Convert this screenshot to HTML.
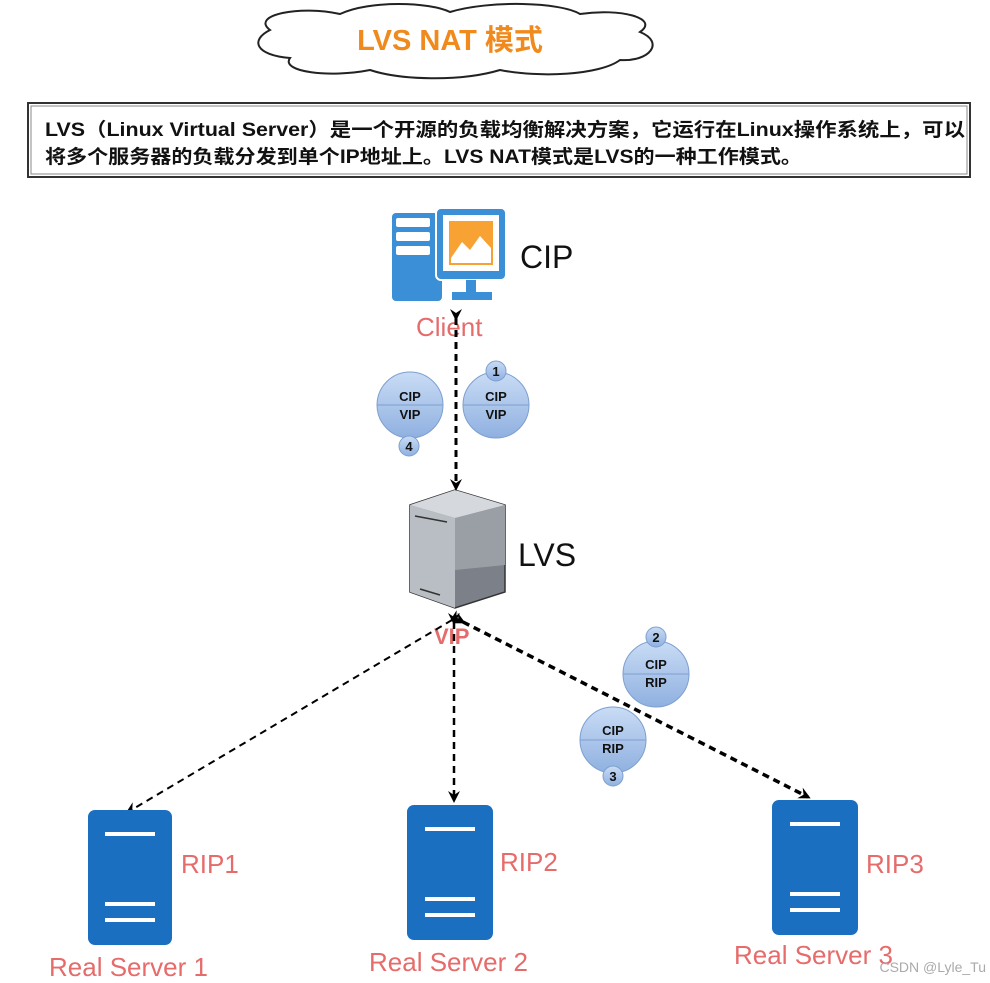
<!DOCTYPE html>
<html><head><meta charset="utf-8"><style>body{margin:0;background:#fff}svg{display:block}text{font-family:"Liberation Sans","Noto Sans CJK SC",sans-serif}</style></head><body>
<svg width="990" height="983" viewBox="0 0 990 983">
<defs>
<marker id="a" markerWidth="12" markerHeight="12" refX="9" refY="6" orient="auto" markerUnits="userSpaceOnUse"><path d="M0,0 L12,6 L0,12 L4,6z" fill="#000"/></marker>
<linearGradient id="bg" x1="0" y1="0" x2="0" y2="1"><stop offset="0" stop-color="#c9dcf5"/><stop offset="1" stop-color="#8fb0e0"/></linearGradient>
</defs>
<!-- cloud -->
<path d="M270,30 C250,15 300,5 340,14 C370,0 430,2 450,12 C490,0 560,2 580,14 C620,8 660,18 640,32 C665,42 650,62 620,60 C600,75 540,78 500,70 C460,82 400,80 370,70 C330,78 280,72 290,58 C255,55 250,40 270,30Z" fill="#fff" stroke="#222" stroke-width="2"/>
<text x="450" y="50" text-anchor="middle" font-size="29" font-weight="bold" fill="#f08a1c">LVS NAT 模式</text>
<!-- text box -->
<rect x="28" y="103" width="942" height="74" fill="#fff" stroke="#333" stroke-width="2"/>
<rect x="31" y="106" width="936" height="68" fill="none" stroke="#888" stroke-width="1"/>
<text x="45" y="136" font-size="19" font-weight="bold" fill="#111" textLength="920" lengthAdjust="spacingAndGlyphs">LVS（Linux Virtual Server）是一个开源的负载均衡解决方案，它运行在Linux操作系统上，可以</text>
<text x="45" y="163" font-size="19" font-weight="bold" fill="#111" textLength="757" lengthAdjust="spacingAndGlyphs">将多个服务器的负载分发到单个IP地址上。LVS NAT模式是LVS的一种工作模式。</text>
<!-- client -->
<rect x="392" y="213" width="50" height="88" rx="4" fill="#3b8fd6"/>
<rect x="396" y="218" width="34" height="9" rx="2" fill="#fff"/><rect x="396" y="232" width="34" height="9" rx="2" fill="#fff"/><rect x="396" y="246" width="34" height="9" rx="2" fill="#fff"/>
<rect x="436" y="208" width="70" height="72" rx="5" fill="#3b8fd6" stroke="#fff" stroke-width="2"/>
<rect x="443" y="215" width="56" height="56" fill="#fff"/>
<rect x="449" y="221" width="44" height="44" fill="#f7a233"/>
<path d="M451,258 L462,242 L470,250 L480,236 L491,248 L491,263 L451,263Z" fill="#fff"/>
<rect x="466" y="280" width="10" height="12" fill="#3b8fd6"/><rect x="452" y="292" width="40" height="8" fill="#3b8fd6"/>
<text x="520" y="268" font-size="32" fill="#111">CIP</text>
<text x="416" y="336" font-size="26" fill="#e66b6b">Client</text>
<!-- LVS server -->
<path d="M410,505 L455,490 L505,505 L505,592 L455,608 L410,592Z" fill="#7c8189" stroke="#333" stroke-width="1.5"/>
<path d="M410,505 L455,518 L455,608 L410,592Z" fill="#b9bdc4"/>
<path d="M455,518 L505,505 L505,565 L455,570Z" fill="#9a9ea5"/>
<path d="M410,505 L455,490 L505,505 L455,518Z" fill="#d5d8dc"/>
<line x1="415" y1="516" x2="447" y2="522" stroke="#333" stroke-width="1.5"/>
<line x1="420" y1="589" x2="440" y2="595" stroke="#333" stroke-width="1.5"/>
<text x="518" y="566" font-size="32" fill="#111">LVS</text>
<text x="434" y="644" font-size="22" font-weight="bold" fill="#e66b6b">VIP</text>
<!-- connectors -->
<g stroke="#000" fill="none" stroke-dasharray="7,5">
<line x1="456" y1="318" x2="456" y2="488" stroke-width="3" marker-start="url(#a)" marker-end="url(#a)"/>
<line x1="452" y1="620" x2="128" y2="812" stroke-width="2" marker-start="url(#a)" marker-end="url(#a)"/>
<line x1="454" y1="622" x2="454" y2="800" stroke-width="2.5" marker-start="url(#a)" marker-end="url(#a)"/>
<line x1="463" y1="622" x2="808" y2="797" stroke-width="3.5" marker-start="url(#a)" marker-end="url(#a)"/>
</g>
<!-- packets -->
<g font-size="13" font-weight="bold" fill="#111" text-anchor="middle">
<g stroke="#7d9fd0" stroke-width="1">
<circle cx="410" cy="405" r="33" fill="url(#bg)"/><circle cx="496" cy="405" r="33" fill="url(#bg)"/>
<circle cx="656" cy="674" r="33" fill="url(#bg)"/><circle cx="613" cy="740" r="33" fill="url(#bg)"/>
<line x1="377" y1="405" x2="443" y2="405"/><line x1="463" y1="405" x2="529" y2="405"/>
<line x1="623" y1="674" x2="689" y2="674"/><line x1="580" y1="740" x2="646" y2="740"/>
<circle cx="496" cy="371" r="10" fill="url(#bg)"/><circle cx="409" cy="446" r="10" fill="url(#bg)"/>
<circle cx="656" cy="637" r="10" fill="url(#bg)"/><circle cx="613" cy="776" r="10" fill="url(#bg)"/>
</g>
<text x="410" y="401">CIP</text><text x="410" y="419">VIP</text>
<text x="496" y="401">CIP</text><text x="496" y="419">VIP</text>
<text x="656" y="669">CIP</text><text x="656" y="687">RIP</text>
<text x="613" y="735">CIP</text><text x="613" y="753">RIP</text>
<text x="496" y="376">1</text><text x="409" y="451">4</text><text x="656" y="642">2</text><text x="613" y="781">3</text>
</g>
<!-- real servers -->
<g fill="#1a6fc0">
<rect x="88" y="810" width="84" height="135" rx="7"/><rect x="407" y="805" width="86" height="135" rx="7"/><rect x="772" y="800" width="86" height="135" rx="7"/>
</g>
<g fill="#fff">
<rect x="105" y="832" width="50" height="4"/><rect x="105" y="902" width="50" height="4"/><rect x="105" y="918" width="50" height="4"/>
<rect x="425" y="827" width="50" height="4"/><rect x="425" y="897" width="50" height="4"/><rect x="425" y="913" width="50" height="4"/>
<rect x="790" y="822" width="50" height="4"/><rect x="790" y="892" width="50" height="4"/><rect x="790" y="908" width="50" height="4"/>
</g>
<g font-size="26" fill="#e66b6b">
<text x="181" y="873">RIP1</text><text x="500" y="871">RIP2</text><text x="866" y="873">RIP3</text>
<text x="49" y="976">Real Server 1</text><text x="369" y="971">Real Server 2</text><text x="734" y="964">Real Server 3</text>
</g>
<text x="986" y="972" text-anchor="end" font-size="14" fill="#aaa">CSDN @Lyle_Tu</text>
</svg>
</body></html>
